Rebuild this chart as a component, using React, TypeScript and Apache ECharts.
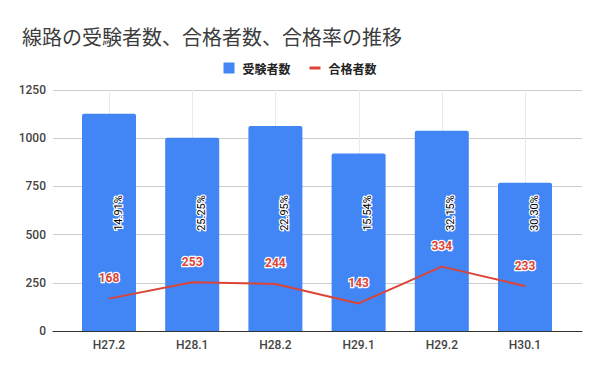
import React, { useEffect, useRef } from "react";
import * as echarts from "echarts";

const categories = ["H27.2", "H28.1", "H28.2", "H29.1", "H29.2", "H30.1"];
const examinees = [1127, 1002, 1063, 920, 1039, 769];
const passed = [168, 253, 244, 143, 334, 233];
const passRates = ["14.91%", "25.25%", "22.95%", "15.54%", "32.15%", "30.30%"];
const yTicks = { min: 0, max: 1250, interval: 250 };

const TOP = 90;
const BOTTOM = 40;

export default function App() {
  const ref = useRef<HTMLDivElement>(null);
  useEffect(() => {
    if (!ref.current) return;
    const chart = echarts.init(ref.current, null, { renderer: "svg" });
    const font = "Roboto, 'Noto Sans CJK JP', sans-serif";
    chart.setOption({
      animation: false,
      backgroundColor: "#ffffff",
      title: {
        text: "線路の受験者数、合格者数、合格率の推移",
        left: 17,
        top: 21,
        textStyle: {
          fontFamily: "'Noto Sans CJK JP', sans-serif",
          fontSize: 20,
          fontWeight: "normal",
          color: "#3c3c3c",
        },
      },
      legend: {
        left: "center",
        top: 57,
        itemWidth: 11,
        itemHeight: 11,
        itemGap: 19,
        textStyle: {
          fontFamily: "'Noto Sans CJK JP', sans-serif",
          fontSize: 12,
          fontWeight: "bold",
          color: "#222222",
          padding: [0, 0, 0, 3],
        },
        data: [
          { name: "受験者数", icon: "rect", itemStyle: { color: "#4285f4" } },
          { name: "合格者数", icon: "path://M0,0h11v3h-11z", itemStyle: { color: "#db4437" } },
        ],
      },
      grid: [
        { left: 53, right: 18, top: TOP, bottom: BOTTOM },
        { left: 109, right: 74.5, top: TOP, bottom: BOTTOM },
        { left: 67.4, right: 33.4, top: TOP, bottom: BOTTOM },
      ],
      xAxis: [
        {
          gridIndex: 0,
          type: "value",
          min: 0,
          max: 1,
          axisLine: { show: true, onZero: false, lineStyle: { color: "#333333", width: 1 } },
          axisTick: { show: false },
          axisLabel: { show: false },
          splitLine: { show: false },
        },
        {
          gridIndex: 1,
          type: "category",
          boundaryGap: false,
          data: categories,
          axisLine: { show: false },
          axisTick: { show: false },
          axisLabel: { show: false },
          splitLine: { show: true, lineStyle: { color: "#ebebeb", width: 1 } },
        },
        {
          gridIndex: 2,
          type: "category",
          data: categories,
          axisLine: { show: false },
          axisTick: { show: false },
          axisLabel: {
            margin: 8,
            fontFamily: font,
            fontSize: 12,
            fontWeight: 500,
            color: "#444444",
          },
          splitLine: { show: false },
        },
      ],
      yAxis: [
        {
          gridIndex: 0,
          type: "value",
          min: yTicks.min,
          max: yTicks.max,
          interval: yTicks.interval,
          axisLine: { show: false },
          axisTick: { show: false },
          axisLabel: {
            margin: 7,
            formatter: (v: number) => String(v),
            fontFamily: font,
            fontSize: 12,
            fontWeight: 500,
            color: "#444444",
          },
          splitLine: { show: true, lineStyle: { color: "#cccccc", width: 1 } },
        },
        {
          gridIndex: 1,
          type: "value",
          min: yTicks.min,
          max: yTicks.max,
          show: false,
        },
        {
          gridIndex: 2,
          type: "value",
          min: yTicks.min,
          max: yTicks.max,
          show: false,
        },
      ],
      series: [
        {
          name: "受験者数",
          type: "bar",
          xAxisIndex: 2,
          yAxisIndex: 2,
          data: examinees,
          barWidth: 54,
          itemStyle: { color: "#4285f4", borderRadius: [2, 2, 0, 0] },
          label: {
            show: true,
            position: ["50%", "100%"],
            rotate: 90,
            offset: [118, 9],
            align: "center",
            verticalAlign: "middle",
            formatter: (p: any) => passRates[p.dataIndex],
            fontFamily: font,
            fontSize: 11,
            color: "#000000",
            textBorderColor: "#ffffff",
            textBorderWidth: 2.5,
          },
        },
        {
          name: "合格者数",
          type: "line",
          xAxisIndex: 2,
          yAxisIndex: 2,
          data: passed,
          symbol: "circle",
          symbolSize: 1,
          showSymbol: true,
          itemStyle: { color: "#db4437" },
          lineStyle: { color: "#db4437", width: 2 },
          label: {
            show: true,
            position: "top",
            distance: 14,
            fontFamily: font,
            fontSize: 12,
            fontWeight: "bold",
            color: "#db4437",
            textBorderColor: "#ffffff",
            textBorderWidth: 2.5,
          },
          z: 3,
        },
      ],
    });
    return () => chart.dispose();
  }, []);
  return <div ref={ref} style={{ width: 600, height: 371, position: "absolute", left: 0, top: 0 }} />;
}
